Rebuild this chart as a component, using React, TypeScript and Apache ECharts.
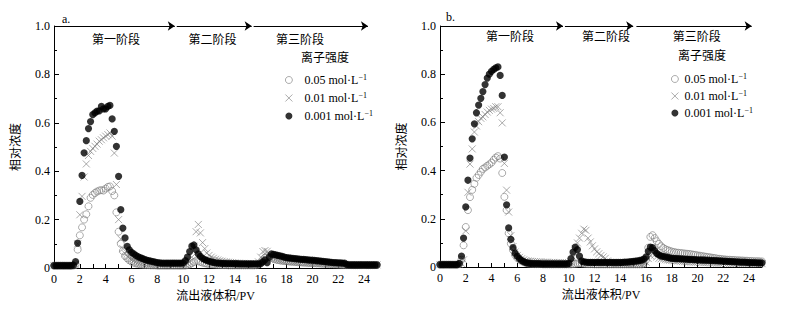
import React, { useEffect, useRef } from 'react';
import * as echarts from 'echarts';

// Effluent volume grid (PV), shared by all series
const PV = [
  0, 0.17, 0.33, 0.5, 0.67, 0.83, 1, 1.17, 1.33, 1.5, 1.67, 1.83,
  2, 2.17, 2.33, 2.5, 2.67, 2.83, 3, 3.17, 3.33, 3.5, 3.67, 3.83,
  4, 4.17, 4.33, 4.5, 4.67, 4.83, 5, 5.17, 5.33, 5.5, 5.67, 5.83,
  6, 6.17, 6.33, 6.5, 6.67, 6.83, 7, 7.17, 7.33, 7.5, 7.67, 7.83,
  8, 8.17, 8.33, 8.5, 8.67, 8.83, 9, 9.17, 9.33, 9.5, 9.67, 9.83,
  10, 10.17, 10.33, 10.5, 10.67, 10.83, 11, 11.17, 11.33, 11.5, 11.67, 11.83,
  12, 12.17, 12.33, 12.5, 12.67, 12.83, 13, 13.17, 13.33, 13.5, 13.67, 13.83,
  14, 14.17, 14.33, 14.5, 14.67, 14.83, 15, 15.17, 15.33, 15.5, 15.67, 15.83,
  16, 16.17, 16.33, 16.5, 16.67, 16.83, 17, 17.17, 17.33, 17.5, 17.67, 17.83,
  18, 18.17, 18.33, 18.5, 18.67, 18.83, 19, 19.17, 19.33, 19.5, 19.67, 19.83,
  20, 20.17, 20.33, 20.5, 20.67, 20.83, 21, 21.17, 21.33, 21.5, 21.67, 21.83,
  22, 22.17, 22.33, 22.5, 22.67, 22.83, 23, 23.17, 23.33, 23.5, 23.67, 23.83,
  24, 24.17, 24.33, 24.5, 24.67, 24.83, 25,
];

// Panel a — 0.05 mol/L (open circles)
const A_05 = [
  0.01, 0.01, 0.01, 0.01, 0.01, 0.01, 0.01, 0.01, 0.01, 0.01, 0.015, 0.076,
  0.135, 0.168, 0.2, 0.222, 0.255, 0.29, 0.302, 0.31, 0.316, 0.32, 0.322, 0.32,
  0.328, 0.335, 0.337, 0.318, 0.3, 0.23, 0.15, 0.1, 0.07, 0.05, 0.04, 0.032,
  0.026, 0.022, 0.019, 0.017, 0.015, 0.014, 0.013, 0.012, 0.012, 0.011, 0.011, 0.011,
  0.01, 0.01, 0.01, 0.01, 0.01, 0.01, 0.01, 0.01, 0.01, 0.01, 0.01, 0.01,
  0.01, 0.01, 0.012, 0.015, 0.02, 0.025, 0.03, 0.028, 0.025, 0.022, 0.02, 0.018,
  0.017, 0.016, 0.015, 0.014, 0.013, 0.013, 0.012, 0.012, 0.012, 0.011, 0.011, 0.011,
  0.011, 0.011, 0.011, 0.011, 0.011, 0.011, 0.011, 0.011, 0.011, 0.011, 0.012, 0.015,
  0.022, 0.032, 0.042, 0.048, 0.046, 0.042, 0.038, 0.035, 0.033, 0.031, 0.03, 0.029,
  0.028, 0.027, 0.026, 0.026, 0.025, 0.024, 0.024, 0.023, 0.022, 0.022, 0.021, 0.021,
  0.02, 0.02, 0.019, 0.019, 0.018, 0.018, 0.017, 0.017, 0.016, 0.016, 0.015, 0.015,
  0.014, 0.014, 0.013, 0.013, 0.012, 0.012, 0.012, 0.012, 0.012, 0.012, 0.012, 0.012,
  0.012, 0.012, 0.012, 0.012, 0.012, 0.012, 0.012,
];

// Panel a — 0.01 mol/L (crosses)
const A_01 = [
  0.01, 0.01, 0.01, 0.01, 0.01, 0.01, 0.01, 0.01, 0.01, 0.01, 0.015, 0.1,
  0.22, 0.296, 0.376, 0.43, 0.465, 0.482, 0.494, 0.503, 0.512, 0.524, 0.53, 0.538,
  0.545, 0.551, 0.558, 0.545, 0.475, 0.345, 0.2, 0.12, 0.08, 0.06, 0.048, 0.04,
  0.034, 0.03, 0.027, 0.024, 0.022, 0.02, 0.019, 0.018, 0.017, 0.016, 0.016, 0.015,
  0.015, 0.015, 0.015, 0.015, 0.015, 0.015, 0.015, 0.015, 0.015, 0.015, 0.015, 0.015,
  0.015, 0.015, 0.018, 0.025, 0.045, 0.09, 0.15, 0.18, 0.145, 0.105, 0.08, 0.062,
  0.052, 0.045, 0.04, 0.036, 0.033, 0.03, 0.028, 0.026, 0.025, 0.024, 0.023, 0.022,
  0.021, 0.02, 0.02, 0.019, 0.019, 0.018, 0.018, 0.017, 0.017, 0.017, 0.018, 0.025,
  0.045, 0.068, 0.072, 0.069, 0.055, 0.046, 0.04, 0.036, 0.034, 0.032, 0.031, 0.03,
  0.029, 0.028, 0.028, 0.027, 0.026, 0.026, 0.025, 0.025, 0.024, 0.024, 0.023, 0.023,
  0.022, 0.022, 0.021, 0.021, 0.02, 0.02, 0.019, 0.019, 0.018, 0.018, 0.017, 0.017,
  0.016, 0.016, 0.015, 0.015, 0.014, 0.014, 0.014, 0.013, 0.013, 0.013, 0.013, 0.013,
  0.013, 0.013, 0.013, 0.013, 0.013, 0.013, 0.013,
];

// Panel a — 0.001 mol/L (filled circles)
const A_001 = [
  0.01, 0.01, 0.01, 0.01, 0.01, 0.01, 0.01, 0.01, 0.01, 0.012, 0.026, 0.103,
  0.275, 0.383, 0.476, 0.526, 0.576, 0.605, 0.634, 0.641, 0.648, 0.649, 0.668, 0.658,
  0.658, 0.668, 0.672, 0.616, 0.565, 0.503, 0.379, 0.241, 0.165, 0.124, 0.089, 0.075,
  0.065, 0.058, 0.052, 0.047, 0.043, 0.04, 0.036, 0.033, 0.03, 0.028, 0.026, 0.024,
  0.022, 0.021, 0.02, 0.02, 0.02, 0.02, 0.02, 0.02, 0.02, 0.02, 0.02, 0.02,
  0.021, 0.03, 0.045, 0.068, 0.09, 0.095, 0.075, 0.058, 0.048, 0.04, 0.035, 0.031,
  0.028, 0.025, 0.023, 0.021, 0.02, 0.02, 0.019, 0.019, 0.018, 0.018, 0.018, 0.018,
  0.018, 0.018, 0.017, 0.017, 0.017, 0.017, 0.017, 0.017, 0.017, 0.017, 0.017, 0.017,
  0.018, 0.025, 0.034, 0.022, 0.045, 0.058, 0.056, 0.054, 0.052, 0.05, 0.048, 0.045,
  0.043, 0.042, 0.041, 0.04, 0.039, 0.038, 0.037, 0.036, 0.036, 0.035, 0.034, 0.033,
  0.032, 0.031, 0.03, 0.029, 0.028, 0.027, 0.026, 0.025, 0.024, 0.023, 0.022, 0.022,
  0.021, 0.021, 0.02, 0.02, 0.014, 0.013, 0.013, 0.013, 0.013, 0.013, 0.013, 0.013,
  0.013, 0.013, 0.013, 0.013, 0.013, 0.013, 0.013,
];

// Panel b — 0.05 mol/L (open circles)
const B_05 = [
  0.01, 0.01, 0.01, 0.01, 0.01, 0.01, 0.01, 0.01, 0.01, 0.012, 0.03, 0.09,
  0.166, 0.236, 0.29, 0.32, 0.345, 0.37, 0.382, 0.395, 0.407, 0.413, 0.42, 0.426,
  0.433, 0.445, 0.454, 0.46, 0.45, 0.39, 0.291, 0.236, 0.14, 0.097, 0.07, 0.05,
  0.038, 0.03, 0.025, 0.02, 0.017, 0.015, 0.014, 0.013, 0.012, 0.012, 0.012, 0.012,
  0.011, 0.011, 0.011, 0.011, 0.011, 0.011, 0.011, 0.011, 0.011, 0.011, 0.011, 0.011,
  0.011, 0.011, 0.012, 0.013, 0.015, 0.016, 0.015, 0.014, 0.013, 0.012, 0.012, 0.012,
  0.011, 0.011, 0.011, 0.011, 0.011, 0.011, 0.011, 0.011, 0.011, 0.011, 0.011, 0.011,
  0.011, 0.011, 0.011, 0.011, 0.011, 0.011, 0.011, 0.011, 0.011, 0.011, 0.011, 0.015,
  0.03, 0.08, 0.125, 0.132, 0.12, 0.107, 0.096, 0.086, 0.079, 0.074, 0.07, 0.067,
  0.064, 0.062, 0.06, 0.059, 0.058, 0.057, 0.056, 0.055, 0.054, 0.053, 0.051, 0.05,
  0.048, 0.047, 0.045, 0.044, 0.042, 0.041, 0.04, 0.038, 0.037, 0.035, 0.034, 0.033,
  0.032, 0.031, 0.03, 0.03, 0.029, 0.029, 0.028, 0.028, 0.027, 0.027, 0.026, 0.026,
  0.025, 0.025, 0.024, 0.024, 0.024, 0.023, 0.023,
];

// Panel b — 0.01 mol/L (crosses)
const B_01 = [
  0.01, 0.01, 0.01, 0.01, 0.01, 0.01, 0.01, 0.01, 0.01, 0.01, 0.015, 0.03,
  0.15, 0.31, 0.427, 0.49, 0.56, 0.585, 0.603, 0.617, 0.623, 0.633, 0.643, 0.65,
  0.655, 0.658, 0.665, 0.665, 0.64, 0.598, 0.43, 0.319, 0.228, 0.13, 0.085, 0.062,
  0.048, 0.04, 0.034, 0.03, 0.027, 0.025, 0.024, 0.023, 0.022, 0.022, 0.021, 0.021,
  0.02, 0.02, 0.02, 0.019, 0.019, 0.019, 0.018, 0.018, 0.018, 0.018, 0.017, 0.017,
  0.017, 0.02, 0.04, 0.075, 0.1, 0.12, 0.14, 0.157, 0.152, 0.12, 0.104, 0.088,
  0.075, 0.063, 0.055, 0.048, 0.042, 0.036, 0.025, 0.015, 0.012, 0.012, 0.012, 0.012,
  0.012, 0.012, 0.012, 0.012, 0.012, 0.012, 0.012, 0.012, 0.012, 0.012, 0.012, 0.013,
  0.02, 0.035, 0.048, 0.055, 0.05, 0.042, 0.036, 0.034, 0.032, 0.03, 0.029, 0.028,
  0.027, 0.026, 0.025, 0.025, 0.024, 0.023, 0.022, 0.022, 0.021, 0.021, 0.02, 0.02,
  0.02, 0.019, 0.019, 0.018, 0.018, 0.018, 0.017, 0.017, 0.017, 0.016, 0.016, 0.016,
  0.016, 0.015, 0.015, 0.015, 0.015, 0.015, 0.014, 0.014, 0.014, 0.014, 0.014, 0.014,
  0.014, 0.014, 0.014, 0.014, 0.014, 0.014, 0.014,
];

// Panel b — 0.001 mol/L (filled circles)
const B_001 = [
  0.01, 0.01, 0.01, 0.01, 0.01, 0.01, 0.01, 0.01, 0.01, 0.015, 0.045, 0.12,
  0.249, 0.36, 0.452, 0.532, 0.594, 0.64, 0.672, 0.7, 0.728, 0.757, 0.784, 0.8,
  0.812, 0.82, 0.826, 0.83, 0.795, 0.712, 0.456, 0.258, 0.162, 0.115, 0.08, 0.058,
  0.045, 0.035, 0.027, 0.022, 0.018, 0.016, 0.015, 0.014, 0.014, 0.014, 0.014, 0.013,
  0.013, 0.013, 0.013, 0.013, 0.013, 0.013, 0.013, 0.013, 0.013, 0.013, 0.013, 0.013,
  0.015, 0.035, 0.062, 0.082, 0.072, 0.045, 0.025, 0.021, 0.02, 0.019, 0.019, 0.019,
  0.019, 0.019, 0.019, 0.019, 0.019, 0.019, 0.019, 0.019, 0.019, 0.019, 0.019, 0.019,
  0.019, 0.019, 0.02, 0.02, 0.021, 0.022, 0.023, 0.024, 0.025, 0.027, 0.029, 0.033,
  0.042, 0.065, 0.082, 0.08, 0.068, 0.057, 0.05, 0.046, 0.044, 0.042, 0.04, 0.038,
  0.036, 0.036, 0.035, 0.035, 0.034, 0.034, 0.033, 0.033, 0.032, 0.032, 0.031, 0.031,
  0.03, 0.03, 0.029, 0.029, 0.028, 0.028, 0.027, 0.027, 0.026, 0.026, 0.025, 0.025,
  0.024, 0.024, 0.023, 0.023, 0.022, 0.022, 0.021, 0.021, 0.02, 0.02, 0.02, 0.019,
  0.019, 0.018, 0.018, 0.018, 0.017, 0.017, 0.017,
];

const SERIES_NAMES = ['0.05', '0.01', '0.001'];
const STAGE_NAMES = ['第一阶段', '第二阶段', '第三阶段'];
const A_STAGE_X = [4.8, 12.27, 19.04];
const B_STAGE_X = [5.43, 12.89, 19.93];
const A_STAGE_Y = 0.944;
const B_STAGE_Y = 0.956;
const A_ARROWS = [[0, 9.35], [9.5, 15.3], [15.45, 24.3]];
const B_ARROWS = [[0, 9.55], [9.7, 15.0], [15.25, 24.2]];

const FONT = '"Liberation Serif", "Times New Roman", "Noto Sans CJK SC", serif';
const CROSS = 'path://M0,0L10,10M10,0L0,10';

function pairs(ys: number[]) {
  const n = Math.min(PV.length, ys.length);
  const out: number[][] = [];
  for (let i = 0; i < n; i++) out.push([PV[i], ys[i]]);
  return out;
}

function xAxis(idx: number) {
  return {
    type: 'value', gridIndex: idx, min: 0, max: 25, interval: 1,
    splitLine: { show: false },
    axisLine: { lineStyle: { color: '#000', width: 1 } },
    axisTick: { inside: true, length: 4, lineStyle: { color: '#000', width: 1 } },
    axisLabel: {
      color: '#000', fontSize: 12, fontFamily: FONT, margin: 5,
      formatter: (v: number) => (Math.round(v) % 2 === 0 && v < 25 ? String(Math.round(v)) : ''),
    },
    name: '流出液体积/PV', nameLocation: 'middle', nameGap: 22,
    nameTextStyle: { color: '#000', fontSize: 12, fontFamily: FONT },
  };
}

function yAxis(idx: number) {
  return {
    type: 'value', gridIndex: idx, min: 0, max: 1, interval: 0.2,
    splitLine: { show: false },
    axisLine: { show: true, lineStyle: { color: '#000', width: 1 } },
    axisTick: { inside: true, length: 5, lineStyle: { color: '#000', width: 1 } },
    minorTick: { show: true, splitNumber: 2, length: 3, lineStyle: { color: '#000', width: 1 } },
    axisLabel: {
      color: '#000', fontSize: 12, fontFamily: FONT, margin: 4,
      formatter: (v: number) => (v === 0 ? '0' : v.toFixed(1)),
    },
    name: '相对浓度', nameLocation: 'middle', nameGap: 32,
    nameTextStyle: { color: '#000', fontSize: 12, fontFamily: FONT },
  };
}

function panelSeries(idx: number, d05: number[], d01: number[], d001: number[], arrows: number[][], stageX: number[], stageY: number) {
  return [
    {
      type: 'scatter', name: SERIES_NAMES[0], xAxisIndex: idx, yAxisIndex: idx,
      data: pairs(d05), symbol: 'circle', symbolSize: 7,
      itemStyle: { color: 'rgba(255,255,255,0)', borderColor: '#7a7a7a', borderWidth: 0.8 },
      z: 2,
    },
    {
      type: 'scatter', name: SERIES_NAMES[1], xAxisIndex: idx, yAxisIndex: idx,
      data: pairs(d01), symbol: CROSS, symbolSize: 7,
      itemStyle: { color: 'rgba(255,255,255,0)', borderColor: '#7a7a7a', borderWidth: 0.8 },
      z: 3,
    },
    {
      type: 'scatter', name: SERIES_NAMES[2], xAxisIndex: idx, yAxisIndex: idx,
      data: pairs(d001), symbol: 'circle', symbolSize: 7.2,
      itemStyle: { color: '#000' },
      z: 4, clip: false,
      markLine: {
        silent: true, symbol: ['none', 'arrow'], symbolSize: 7,
        lineStyle: { color: '#000', width: 1, type: 'solid' },
        label: { show: false },
        data: arrows.map((a) => [{ coord: [a[0], 1] }, { coord: [a[1], 1] }]),
      },
      markPoint: {
        silent: true, symbol: 'circle', symbolSize: 1,
        itemStyle: { color: 'rgba(0,0,0,0)' },
        label: { show: true, position: 'inside', formatter: '{b}', color: '#000', fontSize: 12, fontFamily: FONT },
        data: STAGE_NAMES.map((n, i) => ({ name: n, coord: [stageX[i], stageY] })),
      },
    },
  ];
}

function legend(left: number, top: number, gap: number, pad: number) {
  return {
    left, top, orient: 'vertical', itemWidth: 7, itemHeight: 7, itemGap: gap,
    selectedMode: false, data: SERIES_NAMES,
    itemStyle: { borderWidth: 0.8 },
    formatter: (n: string) => `{a|${n} mol·L}{s|−1}`,
    textStyle: {
      color: '#000', fontFamily: FONT, fontSize: 12, lineHeight: 14,
      rich: {
        a: { fontSize: 12, fontFamily: FONT, color: '#000', lineHeight: 14, padding: [0, 0, 0, pad] },
        s: { fontSize: 8, fontFamily: FONT, color: '#000', lineHeight: 14, verticalAlign: 'top' },
      },
    },
  };
}

function buildOption() {
  const tStyle = { color: '#000', fontSize: 12, fontWeight: 'normal', fontFamily: FONT };
  return {
    animation: false,
    backgroundColor: '#fff',
    textStyle: { fontFamily: FONT },
    grid: [
      { left: 54, top: 26, width: 323, height: 242 },
      { left: 440, top: 26, width: 322, height: 241 },
    ],
    title: [
      { text: 'a.', left: 62, top: 13, padding: 0, textStyle: tStyle },
      { text: 'b.', left: 446, top: 11, padding: 0, textStyle: tStyle },
      { text: '离子强度', left: 301, top: 52, padding: 0, textStyle: tStyle },
      { text: '离子强度', left: 678, top: 50, padding: 0, textStyle: tStyle },
    ],
    legend: [legend(280, 68, 4, 7), legend(666, 67, 3, 1)],
    xAxis: [xAxis(0), xAxis(1)],
    yAxis: [yAxis(0), yAxis(1)],
    series: [
      ...panelSeries(0, A_05, A_01, A_001, A_ARROWS, A_STAGE_X, A_STAGE_Y),
      ...panelSeries(1, B_05, B_01, B_001, B_ARROWS, B_STAGE_X, B_STAGE_Y),
    ],
  };
}

export default function App() {
  const ref = useRef<HTMLDivElement>(null);
  useEffect(() => {
    if (!ref.current) return;
    const chart = echarts.init(ref.current, null, { renderer: 'svg' });
    chart.setOption(buildOption() as any);
    return () => chart.dispose();
  }, []);
  return (
    <div
      ref={ref}
      style={{ position: 'absolute', left: 0, top: 0, width: 806, height: 310, background: '#fff' }}
    />
  );
}
